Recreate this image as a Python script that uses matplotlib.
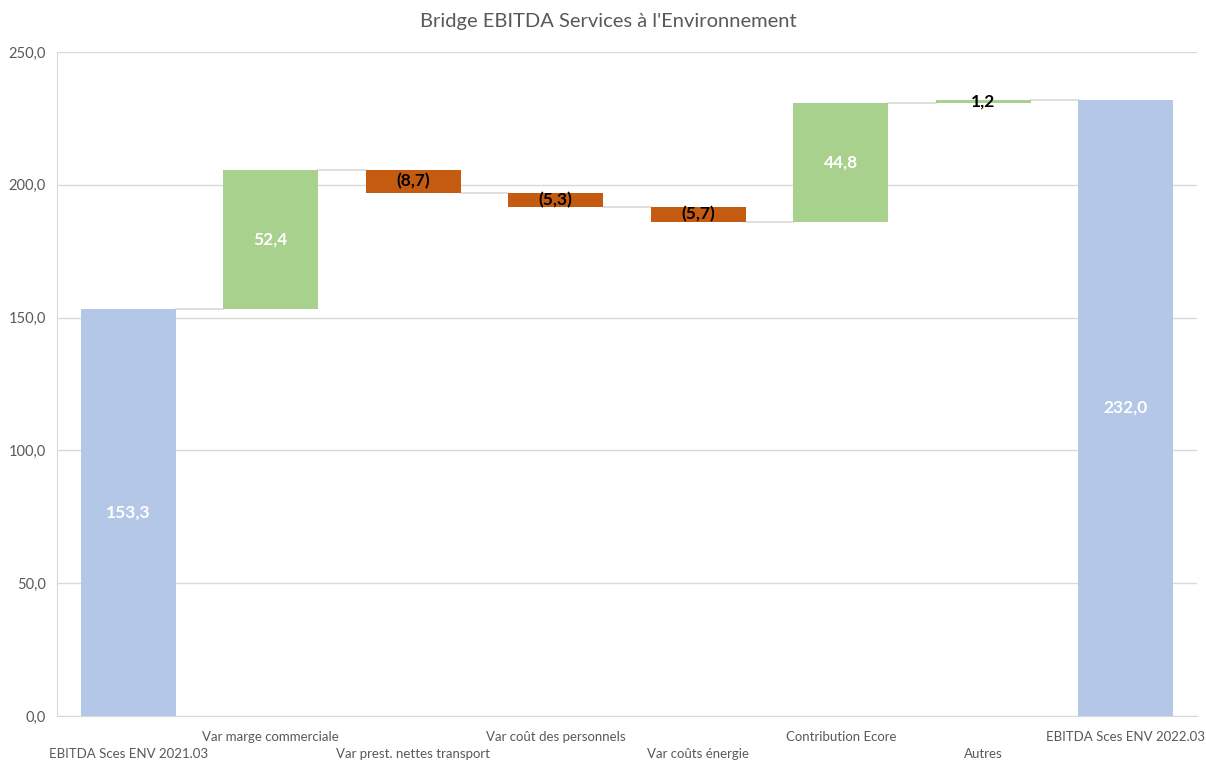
import numpy as np
import matplotlib.pyplot as plt
from matplotlib.ticker import MultipleLocator, FuncFormatter

plt.rcParams['font.family'] = ['Lato', 'DejaVu Sans']

# données du bridge
categories = ["EBITDA Sces ENV 2021.03", "Var marge commerciale", "Var prest. nettes transport",
              "Var coût des personnels", "Var coûts énergie", "Contribution Ecore",
              "Autres", "EBITDA Sces ENV 2022.03"]
values = [153.3, 52.4, -8.7, -5.3, -5.7, 44.8, 1.2, 232.0]
is_total = [True, False, False, False, False, False, False, True]
labels = ["153,3", "52,4", "(8,7)", "(5,3)", "(5,7)", "44,8", "1,2", "232,0"]

c_total = '#B4C7E7'
c_up = '#A9D18E'
c_down = '#C55A11'
grey = '#595959'
line_c = '#D9D9D9'

fig = plt.figure(figsize=(12.06, 7.6), dpi=100)
ax = fig.add_axes([57/1206, 44/760, 1140/1206, 664/760])

x = np.arange(len(categories))
w = 0.667
running = 0.0
tops = []
for i, v in enumerate(values):
    if is_total[i]:
        bottom, height, col = 0, v, c_total
        running = v
    else:
        bottom = running if v >= 0 else running + v
        height = abs(v)
        col = c_up if v >= 0 else c_down
        running = running + v
    ax.bar(x[i], height, bottom=bottom, width=w, color=col, zorder=3)
    tops.append(running)
    # étiquette
    ymid = bottom + height / 2
    if col == c_down or (not is_total[i] and height < 3):
        tc = 'black'
    else:
        tc = 'white'
    ax.text(x[i], ymid, labels[i], ha='center', va='center', color=tc,
            fontsize=12.5, fontweight='bold', zorder=4)

# connecteurs
for i in range(len(values) - 1):
    ax.plot([x[i] + w/2, x[i+1] - w/2], [tops[i], tops[i]], color=line_c, lw=1.2, zorder=2)

ax.set_xlim(-0.5, len(categories) - 0.5)
ax.set_ylim(0, 250)
ax.yaxis.set_major_locator(MultipleLocator(50))
ax.yaxis.set_major_formatter(FuncFormatter(lambda v, p: f"{v:.1f}".replace('.', ',')))
ax.grid(axis='y', color=line_c, lw=1, zorder=0)
ax.tick_params(axis='y', length=0, labelsize=10.5, labelcolor=grey, pad=8)
ax.tick_params(axis='x', length=0)
ax.set_xticks([])
for s in ['top', 'right']:
    ax.spines[s].set_visible(False)
ax.spines['left'].set_color(line_c)
ax.spines['bottom'].set_color(line_c)

# étiquettes de catégories en quinconce
for i, c in enumerate(categories):
    yoff = -15 if i % 2 == 1 else -27
    ax.annotate(c, xy=(x[i], 0), xytext=(0, yoff), textcoords='offset points',
                ha='center', va='center', fontsize=9.5, color=grey, annotation_clip=False)

fig.text(608/1206, 1 - 22/760, "Bridge EBITDA Services à l'Environnement",
         ha='center', va='center', fontsize=14.5, color=grey)

fig.savefig('out.png', dpi=100)
